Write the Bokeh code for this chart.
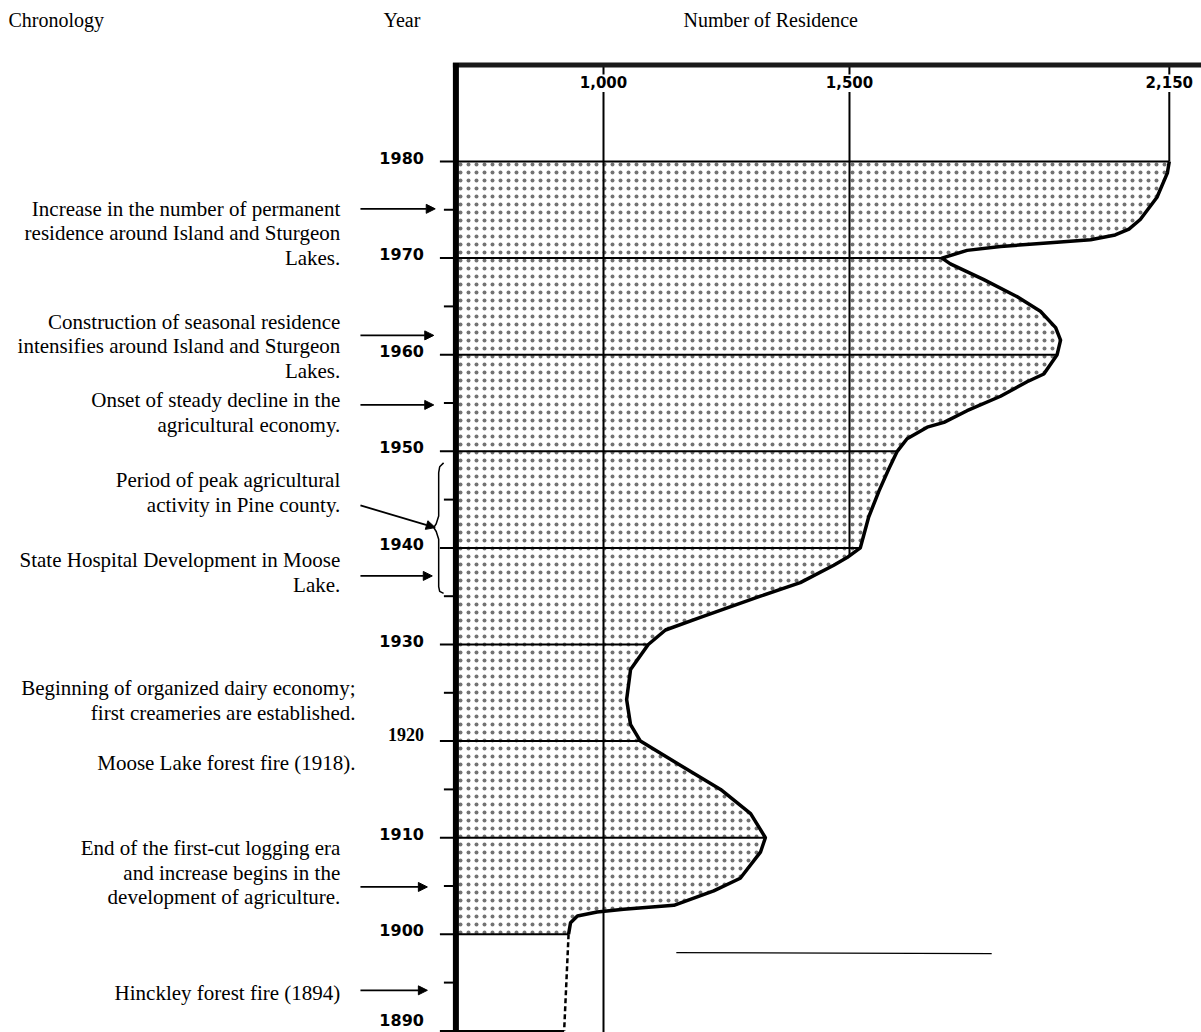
import numpy as np
from bokeh.plotting import figure
from bokeh.models import Range1d, Arrow, NormalHead, ColumnDataSource
from bokeh.core.properties import value, field
from bokeh.embed import file_html
from bokeh.resources import INLINE

# ---------------- data ----------------
curve_years = [1980, 1978.8, 1976.3, 1974.0, 1973.0, 1972.4, 1971.9, 1971.6, 1971.2, 1970.8, 1970,
               1969.4, 1967.8, 1966.0, 1964.5, 1962.8, 1961.5, 1960, 1958.0, 1957.2, 1955.7,
               1954.2, 1953.0, 1952.5, 1951.3, 1950, 1948.2, 1945.9, 1943.2, 1940, 1939.0,
               1938.2, 1936.4, 1935.0, 1932.8, 1931.5, 1930, 1927.4, 1924.3, 1921.7, 1920,
               1917.5, 1915.0, 1912.5, 1910, 1908.5, 1905.8, 1904.5, 1903.0, 1902.6, 1902.3,
               1901.9, 1901.2, 1900]
curve_residences = [2150, 2146, 2125, 2091, 2068, 2040, 1990, 1908, 1807, 1739, 1688,
                    1705, 1772, 1841, 1888, 1919, 1929, 1922, 1895, 1861, 1807,
                    1739, 1692, 1658, 1617, 1597, 1580, 1560, 1539, 1522, 1495,
                    1468, 1400, 1319, 1197, 1126, 1091, 1055, 1047, 1055, 1075,
                    1156, 1238, 1299, 1329, 1319, 1278, 1224, 1143, 1041, 987,
                    947, 933, 929]
dashed_years = [1900, 1890]
dashed_residences = [929, 920]

decade_years = [1980, 1970, 1960, 1950, 1940, 1930, 1920, 1910, 1900, 1890]
decade_labels = ["1980", "1970", "1960", "1950", "1940", "1930", "1920", "1910", "1900", "1890"]
minor_years = [1975, 1965, 1955, 1945, 1935, 1925, 1915, 1905, 1895]

res_ticks = [1000, 1500, 2150]
res_tick_labels = ["1,000", "1,500", "2,150"]
res_grid_end_years = [1888, 1939.2, 1980]

headers = ["Chronology", "Year", "Number of Residence"]

event_texts = [
    ["Increase in the number of permanent", "residence around Island and Sturgeon", "Lakes."],
    ["Construction of seasonal residence", "intensifies around Island and Sturgeon", "Lakes."],
    ["Onset of steady decline in the", "agricultural economy."],
    ["Period of peak agricultural", "activity in Pine county."],
    ["State Hospital Development in Moose", "Lake."],
    ["Beginning of organized dairy economy;", "first creameries are established."],
    ["Moose Lake forest fire (1918)."],
    ["End of the first-cut logging era", "and increase begins in the", "development of agriculture."],
    ["Hinckley forest fire (1894)"],
]
arrow_start_years = [1975.1, 1962.0, 1954.8, 1944.4, 1937.1, 1904.9, 1894.2]
arrow_end_years = [1975.1, 1962.0, 1954.8, 1942.1, 1937.1, 1904.9, 1894.2]

# ---------------- layout (data units) ----------------
W, H = 1201, 1032
PX_PER_RES = 0.492
PX_PER_YEAR = 9.66
X0 = 1000 - 603 / PX_PER_RES
X1 = X0 + W / PX_PER_RES
Y1 = 1980 + 161 / PX_PER_YEAR
Y0 = Y1 - H / PX_PER_YEAR

axis_base = 700
axis_top = 1990
axis_bottom = 1888

event_first_years = [1975.1, 1963.4, 1955.3, 1947.0, 1938.7, 1925.45, 1917.7, 1908.9, 1893.9]
event_right = [465, 465, 465, 465, 465, 496, 496, 465, 465]
line_pitch = 24.5 / PX_PER_YEAR

p = figure(width=W, height=H, x_range=Range1d(X0, X1), y_range=Range1d(Y0, Y1),
           output_backend="svg", toolbar_location=None, min_border=0,
           x_axis_location=None, y_axis_location=None)
p.grid.visible = False
p.outline_line_color = None
p.background_fill_color = "white"
p.border_fill_color = "white"

# stippled area between year axis and curve
p.harea(x1=axis_base, x2=curve_residences, y=curve_years, fill_alpha=0,
        hatch_pattern="dot", hatch_scale=8, hatch_weight=1.0,
        hatch_color="black", hatch_alpha=0.55)

# vertical grid lines of residence scale
for t, yend in zip(res_ticks, res_grid_end_years):
    p.line([t, t], [axis_top, 1989.0], line_color="black", line_width=2)
    p.line([t, t], [1987.2, yend], line_color="black", line_width=2)
p.text(x=res_ticks, y=[1988.2] * len(res_ticks), text=res_tick_labels,
       text_font=value("DejaVu Sans"), text_font_style="bold", text_font_size="15px",
       text_align="center", text_baseline="middle", text_color="black")

# decade lines from tick to curve
all_years = np.array(curve_years + dashed_years[1:])
all_res = np.array(curve_residences + dashed_residences[1:])
order = np.argsort(all_years)
decade_ends = np.interp(decade_years, all_years[order], all_res[order])
stub_start = axis_base - 16 / PX_PER_RES
p.segment(x0=[stub_start] * len(decade_years), y0=decade_years, x1=decade_ends, y1=decade_years,
          line_color="black", line_width=2)
minor_start = axis_base - 12 / PX_PER_RES
p.segment(x0=[minor_start] * len(minor_years), y0=minor_years,
          x1=[axis_base] * len(minor_years), y1=minor_years, line_color="black", line_width=2)

# curve
p.line(curve_residences, curve_years, line_color="black", line_width=3.5, line_join="round")
p.line(dashed_residences, dashed_years, line_color="black", line_width=2.5, line_dash="5 3")

# axes frame
p.line([axis_base - 3 / PX_PER_RES, X1 + 50], [axis_top, axis_top], line_color="#1a1a1a", line_width=5)
p.line([axis_base, axis_base], [axis_bottom, axis_top + 0.2], line_color="black", line_width=6)

# year labels (label offset above its tick line, in px)
label_x = axis_base - 32 / PX_PER_RES
fonts = ["Liberation Serif" if l == "1920" else "DejaVu Sans" for l in decade_labels]
sizes = ["18px" if l == "1920" else "16px" for l in decade_labels]
lift = [7 if l == "1920" else (11 if l == "1890" else 4) for l in decade_labels]
ylab = [y + d / PX_PER_YEAR for y, d in zip(decade_years, lift)]
src = ColumnDataSource(dict(x=[label_x] * len(decade_years), y=ylab, t=decade_labels, f=fonts, s=sizes))
p.text(x="x", y="y", text="t", source=src, text_font=field("f"), text_font_size=field("s"),
       text_font_style="bold", text_align="right", text_baseline="middle", text_color="black")

# headers
hx = [X0 + 8 / PX_PER_RES, 1000 + (383 - 603) / PX_PER_RES, 1000 + (683 - 603) / PX_PER_RES]
p.text(x=hx, y=[1994.6] * 3, text=headers, text_font=value("Liberation Serif"),
       text_font_size="20px", text_align="left", text_baseline="middle", text_color="black")

# event annotations
ex, ey, et = [], [], []
for lines, y1, xr in zip(event_texts, event_first_years, event_right):
    for k, ln in enumerate(lines):
        ex.append(xr)
        ey.append(y1 - k * line_pitch)
        et.append(ln)
p.text(x=ex, y=ey, text=et, text_font=value("Liberation Serif"), text_font_size="21px",
       text_align="right", text_baseline="middle", text_color="black")

# arrows
arrow_x0 = 506
arrow_x1 = [658, 655, 655, 658, 652, 642, 642]
for ys, ye, xe in zip(arrow_start_years, arrow_end_years, arrow_x1):
    p.add_layout(Arrow(end=NormalHead(size=9, fill_color="black", line_color="black"),
                       x_start=arrow_x0, y_start=ys, x_end=xe, y_end=ye,
                       line_color="black", line_width=1.8))

# brace for the period of peak agricultural activity
brace_x = [675, 667, 665, 665, 660, 655, 660, 665, 665, 667, 675]
brace_y = [1948.8, 1948.4, 1947.8, 1943.3, 1942.5, 1942.1, 1941.7, 1940.9, 1936.0, 1935.5, 1935.3]
p.line(brace_x, brace_y, line_color="black", line_width=1.5)

# stray scan line
p.line([1148, 1789], [1898.1, 1898.0], line_color="black", line_width=1.3)

open("out.html", "w").write(file_html(p, INLINE))
